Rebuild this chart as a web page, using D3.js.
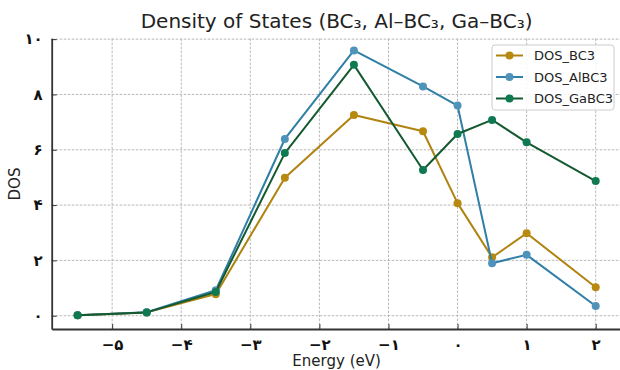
<!DOCTYPE html>
<html>
<head>
<meta charset="utf-8">
<script src="https://cdn.jsdelivr.net/npm/d3@7"></script>
<style>
  body { margin: 0; background: #fff; }
  svg { display: block; font-family: "DejaVu Sans", sans-serif; }
</style>
</head>
<body>
<svg id="chart" width="620" height="370"></svg>
<script>
var energy = [-5.5, -4.5, -3.5, -2.5, -1.5, -0.5, 0, 0.5, 1, 2];
var dosBC3 = [0.02, 0.12, 0.78, 4.99, 7.26, 6.67, 4.07, 2.11, 2.98, 1.03];
var dosAlBC3 = [0.02, 0.13, 0.92, 6.39, 9.59, 8.29, 7.60, 1.90, 2.20, 0.35];
var dosGaBC3 = [0.02, 0.12, 0.86, 5.88, 9.07, 5.27, 6.57, 7.08, 6.27, 4.87];
var seriesNames = ["DOS_BC3", "DOS_AlBC3", "DOS_GaBC3"];
var xTicks = [-5, -4, -3, -2, -1, 0, 1, 2];
var yTicks = [0, 2, 4, 6, 8, 10];

var lineColors = ["#b0820f", "#2f7fa6", "#145a30"];
var markerColors = ["#b8890f", "#4f93bb", "#0f7a52"];

var svg = d3.select("#chart");
var margin = {left: 51.7, right: -1.6, top: 38.3, bottom: 41};
var W = 620, H = 370;

var x = d3.scaleLinear().domain([-5.875, 2.375]).range([margin.left, W - margin.right]);
var y = d3.scaleLinear().domain([-0.48, 10.03]).range([H - margin.bottom, margin.top]);

// persian digits for tick labels
function fa(v) {
  var s = String(Math.abs(v)).replace(/[0-9]/g, function (d) { return "۰۱۲۳۴۵۶۷۸۹"[+d]; });
  return v < 0 ? "\u2212" + s : s;
}

// grid
svg.append("g").selectAll("line").data(xTicks).enter().append("line")
  .attr("x1", function (d) { return x(d); }).attr("x2", function (d) { return x(d); })
  .attr("y1", y.range()[0]).attr("y2", y.range()[1])
  .attr("stroke", "#b0b0b0").attr("stroke-width", 0.9).attr("stroke-dasharray", "2.5,1.5");
svg.append("g").selectAll("line").data(yTicks).enter().append("line")
  .attr("x1", x.range()[0]).attr("x2", W)
  .attr("y1", function (d) { return y(d); }).attr("y2", function (d) { return y(d); })
  .attr("stroke", "#b0b0b0").attr("stroke-width", 0.9).attr("stroke-dasharray", "2.5,1.5");

// axes
var xAxis = svg.append("g").attr("transform", "translate(0," + y.range()[0] + ")")
  .call(d3.axisBottom(x).tickValues(xTicks).tickSizeInner(-5).tickSizeOuter(0).tickPadding(10).tickFormat(fa));
var yAxis = svg.append("g").attr("transform", "translate(" + x.range()[0] + ",0)")
  .call(d3.axisLeft(y).tickValues(yTicks).tickSizeInner(-5).tickSizeOuter(0).tickPadding(9).tickFormat(fa));
[xAxis, yAxis].forEach(function (a) {
  a.select(".domain").attr("stroke", "#333").attr("stroke-width", 1.8);
  a.selectAll(".tick line").attr("stroke", "#333").attr("stroke-width", 1);
  a.selectAll(".tick text").attr("font-family", "DejaVu Sans").attr("font-size", 15)
    .attr("font-weight", "bold").attr("fill", "#111");
});

var all = [dosBC3, dosAlBC3, dosGaBC3];
var line = d3.line().x(function (d) { return x(d[0]); }).y(function (d) { return y(d[1]); });

all.forEach(function (vals, i) {
  var pts = energy.map(function (e, j) { return [e, vals[j]]; });
  var g = svg.append("g");
  g.append("path").datum(pts).attr("d", line).attr("fill", "none")
    .attr("stroke", lineColors[i]).attr("stroke-width", 2).attr("stroke-linejoin", "round");
  g.selectAll("circle").data(pts).enter().append("circle")
    .attr("cx", function (d) { return x(d[0]); }).attr("cy", function (d) { return y(d[1]); })
    .attr("r", 4).attr("fill", markerColors[i]);
});

// title + labels
svg.append("text").attr("x", 336.6).attr("y", 28).attr("text-anchor", "middle")
  .attr("font-size", 20).attr("fill", "#222").text("Density of States (BC₃, Al–BC₃, Ga–BC₃)");
svg.append("text").attr("x", 336.6).attr("y", 366).attr("text-anchor", "middle")
  .attr("font-size", 15).attr("fill", "#222").text("Energy (eV)");
svg.append("text").attr("transform", "translate(20,184) rotate(-90)").attr("text-anchor", "middle")
  .attr("font-size", 15).attr("fill", "#222").text("DOS");

// legend
var lg = svg.append("g").attr("transform", "translate(492,45)");
lg.append("rect").attr("width", 122).attr("height", 65).attr("rx", 3)
  .attr("fill", "#fff").attr("fill-opacity", 0.85).attr("stroke", "#ccc");
seriesNames.forEach(function (n, i) {
  var ry = 10.5 + i * 21.5;
  lg.append("line").attr("x1", 4).attr("x2", 31).attr("y1", ry).attr("y2", ry)
    .attr("stroke", lineColors[i]).attr("stroke-width", 2);
  lg.append("circle").attr("cx", 17.5).attr("cy", ry).attr("r", 4).attr("fill", markerColors[i]);
  lg.append("text").attr("x", 42).attr("y", ry + 4.5).attr("font-size", 13).attr("fill", "#222").text(n);
});
</script>
</body>
</html>
